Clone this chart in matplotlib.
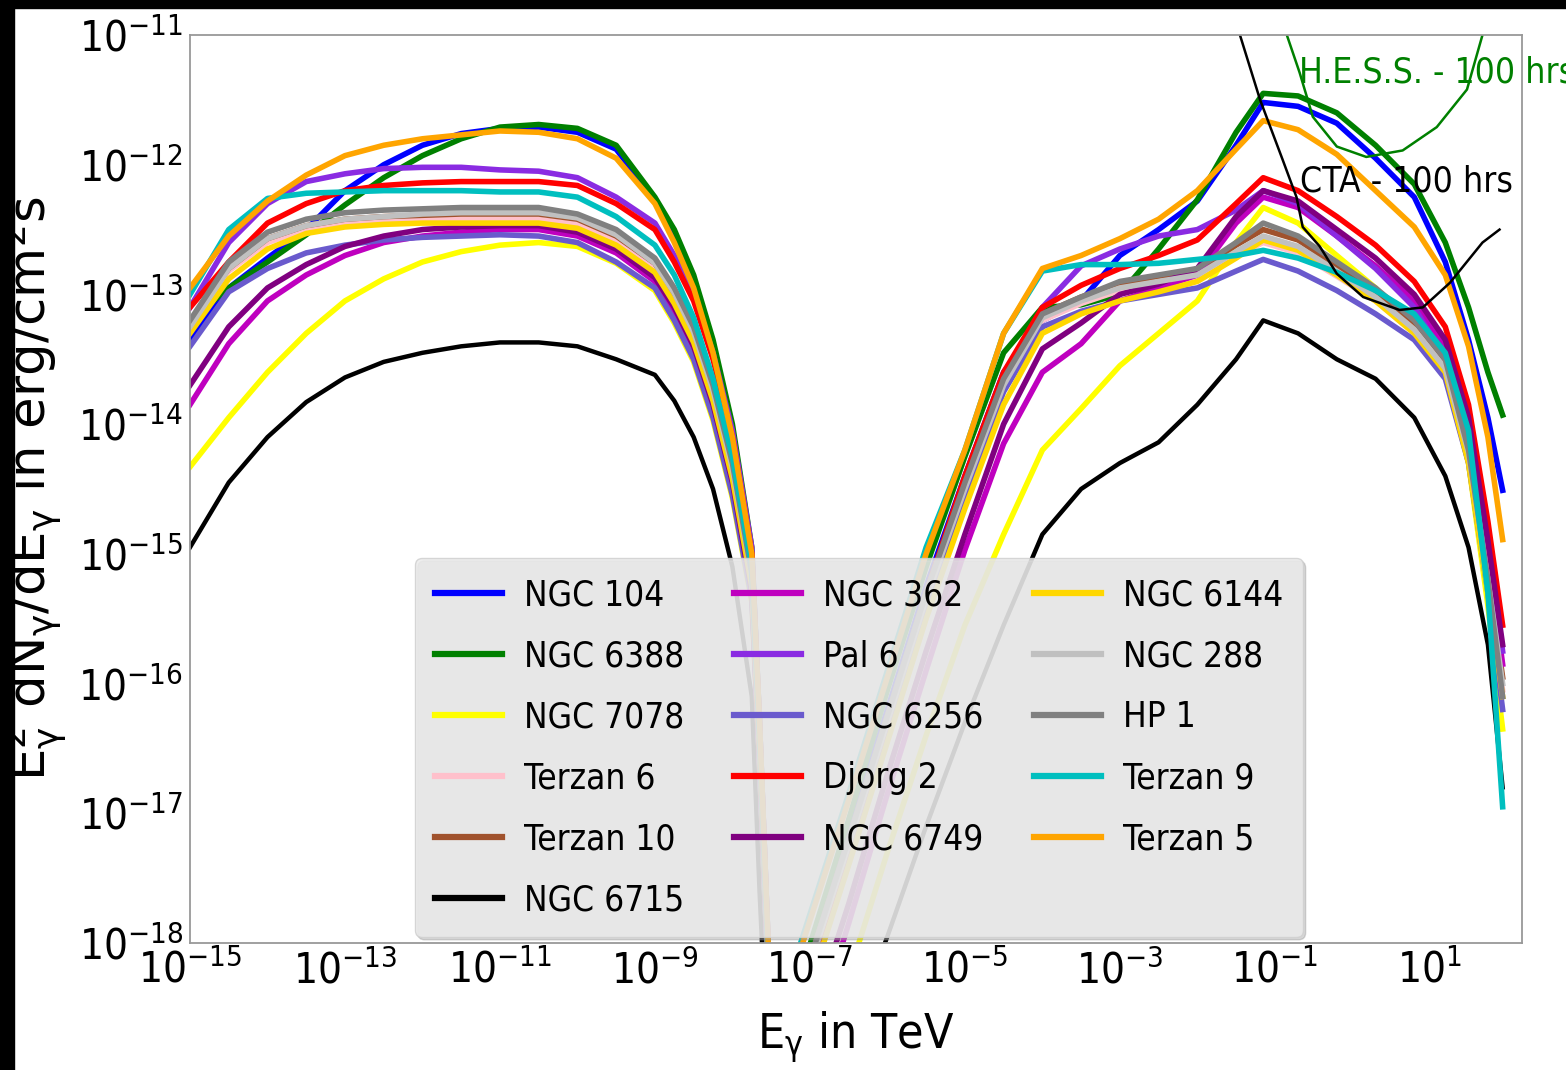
import numpy as np
import matplotlib
matplotlib.use("Agg")
import matplotlib.pyplot as plt
import matplotlib.font_manager as fm
from matplotlib.font_manager import FontProperties
from matplotlib.textpath import TextPath
from matplotlib.patches import Rectangle

# energy grid, log10(E / TeV): synchrotron hump then inverse-Compton hump
log_e_low = [-15, -14.5, -14, -13.5, -13, -12.5, -12, -11.5, -11, -10.5, -10,
             -9.5, -9, -8.75, -8.5, -8.25, -8, -7.75, -7.65, -7.5]
log_e_high = [-7.2, -6.5, -6.0, -5.5, -5.0, -4.5, -4.0, -3.5, -3.0, -2.5, -2.0,
              -1.5, -1.15, -0.7, -0.2, 0.3, 0.8, 1.2, 1.5, 1.75, 1.94]
log_e = log_e_low + log_e_high

# log10 of E^2 dN/dE in erg/cm^2/s for each cluster
ngc104 = [-13.35, -12.95, -12.72, -12.5, -12.2, -12.0, -11.85, -11.76, -11.72, -11.71, -11.75,
          -11.88, -12.27, -12.55, -12.9, -13.4, -14.05, -15.0, -16.3, -18.6,
          -18.5, -17.15, -16.2, -15.25, -14.4, -13.6, -13.2, -13.05, -12.7, -12.5, -12.28,
          -11.85, -11.52, -11.55, -11.68, -11.95, -12.25, -12.75, -13.35, -13.95, -14.51]
ngc6388 = [-13.2, -12.95, -12.75, -12.54, -12.31, -12.1, -11.93, -11.8, -11.71, -11.69, -11.72,
           -11.85, -12.25, -12.5, -12.85, -13.35, -14.0, -14.95, -16.3, -18.6,
           -18.4, -17.05, -16.05, -15.1, -14.25, -13.45, -13.1, -13.08, -13.0, -12.65, -12.27,
           -11.75, -11.45, -11.47, -11.6, -11.85, -12.15, -12.6, -13.1, -13.6, -13.93]
ngc7078 = [-14.33, -13.95, -13.6, -13.3, -13.05, -12.88, -12.75, -12.67, -12.62, -12.6, -12.63,
           -12.76, -12.97, -13.22, -13.52, -13.97, -14.57, -15.37, -16.6, -18.8,
           -19.6, -18.25, -17.3, -16.4, -15.55, -14.85, -14.2, -13.88, -13.55, -13.3, -13.05,
           -12.6, -12.33, -12.45, -12.7, -12.95, -13.25, -13.6, -14.3, -15.4, -16.35]
terzan6 = [-13.25, -12.82, -12.6, -12.5, -12.45, -12.43, -12.42, -12.42, -12.42, -12.42, -12.46,
           -12.58, -12.8, -13.03, -13.33, -13.78, -14.38, -15.2, -16.45, -18.7,
           -18.55, -17.25, -16.3, -15.35, -14.5, -13.7, -13.2, -13.07, -12.97, -12.92, -12.87,
           -12.7, -12.6, -12.68, -12.86, -13.05, -13.3, -13.6, -14.25, -15.25, -16.05]
terzan10 = [-13.22, -12.8, -12.57, -12.47, -12.42, -12.4, -12.39, -12.38, -12.38, -12.38, -12.42,
            -12.55, -12.76, -13.0, -13.3, -13.75, -14.35, -15.18, -16.42, -18.7,
            -18.5, -17.2, -16.25, -15.3, -14.45, -13.65, -13.15, -13.02, -12.92, -12.86, -12.82,
            -12.62, -12.5, -12.58, -12.78, -12.98, -13.22, -13.52, -14.18, -15.15, -15.95]
ngc6715 = [-14.95, -14.45, -14.1, -13.83, -13.64, -13.52, -13.45, -13.4, -13.37, -13.37, -13.4,
           -13.5, -13.62, -13.82, -14.1, -14.5, -15.1, -16.1, -17.6, -19.5,
           -19.9, -18.75, -17.95, -17.1, -16.3, -15.55, -14.85, -14.5, -14.3, -14.14, -13.85,
           -13.5, -13.2, -13.3, -13.5, -13.65, -13.95, -14.4, -14.95, -15.7, -16.8]
ngc362 = [-13.85, -13.38, -13.05, -12.85, -12.7, -12.6, -12.55, -12.52, -12.5, -12.5, -12.55,
          -12.68, -12.9, -13.13, -13.43, -13.88, -14.48, -15.32, -16.6, -18.8,
          -19.2, -17.85, -16.85, -15.9, -14.97, -14.15, -13.6, -13.38, -13.05, -12.95, -12.85,
          -12.45, -12.25, -12.33, -12.55, -12.78, -13.05, -13.42, -14.05, -15.0, -15.85]
pal6 = [-13.1, -12.6, -12.3, -12.13, -12.07, -12.03, -12.02, -12.02, -12.04, -12.05, -12.1,
        -12.25, -12.45, -12.7, -13.0, -13.45, -14.05, -14.95, -16.3, -18.6,
        -18.7, -17.35, -16.4, -15.4, -14.5, -13.7, -13.1, -12.78, -12.65, -12.55, -12.5,
        -12.35, -12.2, -12.3, -12.55, -12.8, -13.1, -13.5, -14.1, -14.9, -15.75]
ngc6256 = [-13.4, -12.98, -12.8, -12.68, -12.62, -12.58, -12.56, -12.55, -12.54, -12.55, -12.6,
           -12.75, -12.95, -13.2, -13.5, -13.95, -14.55, -15.35, -16.6, -18.8,
           -18.6, -17.3, -16.35, -15.4, -14.55, -13.75, -13.25, -13.13, -13.05, -13.0, -12.95,
           -12.82, -12.73, -12.82, -12.97, -13.15, -13.35, -13.65, -14.3, -15.3, -16.2]
djorg2 = [-13.1, -12.75, -12.45, -12.3, -12.2, -12.16, -12.14, -12.13, -12.13, -12.13, -12.16,
          -12.3, -12.5, -12.75, -13.05, -13.5, -14.1, -15.0, -16.3, -18.6,
          -18.6, -17.25, -16.3, -15.3, -14.4, -13.6, -13.1, -12.93, -12.8, -12.7, -12.58,
          -12.3, -12.1, -12.2, -12.4, -12.62, -12.9, -13.25, -13.85, -14.75, -15.55]
ngc6749 = [-13.7, -13.25, -12.95, -12.77, -12.63, -12.55, -12.5, -12.48, -12.47, -12.47, -12.52,
           -12.65, -12.87, -13.1, -13.4, -13.85, -14.45, -15.3, -16.6, -18.8,
           -19.0, -17.7, -16.7, -15.75, -14.85, -14.0, -13.42, -13.22, -13.0, -12.92, -12.8,
           -12.4, -12.2, -12.28, -12.5, -12.72, -13.0, -13.35, -13.95, -14.9, -15.7]
ngc6144 = [-13.3, -12.88, -12.65, -12.53, -12.48, -12.46, -12.45, -12.45, -12.45, -12.45, -12.49,
           -12.62, -12.83, -13.07, -13.37, -13.82, -14.42, -15.25, -16.5, -18.7,
           -18.7, -17.4, -16.45, -15.5, -14.65, -13.85, -13.3, -13.15, -13.05, -12.98, -12.9,
           -12.72, -12.58, -12.66, -12.85, -13.05, -13.3, -13.6, -14.3, -15.3, -16.1]
ngc288 = [-13.25, -12.8, -12.57, -12.47, -12.42, -12.4, -12.38, -12.37, -12.37, -12.37, -12.41,
          -12.54, -12.76, -12.99, -13.29, -13.74, -14.34, -15.17, -16.42, -18.7,
          -18.55, -17.25, -16.3, -15.35, -14.5, -13.7, -13.18, -13.05, -12.95, -12.9, -12.85,
          -12.67, -12.55, -12.63, -12.82, -13.02, -13.27, -13.57, -14.22, -15.2, -16.0]
hp1 = [-13.2, -12.75, -12.52, -12.42, -12.37, -12.35, -12.34, -12.33, -12.33, -12.33, -12.38,
       -12.5, -12.72, -12.95, -13.25, -13.7, -14.3, -15.15, -16.4, -18.7,
       -18.5, -17.2, -16.25, -15.3, -14.45, -13.65, -13.15, -13.02, -12.9, -12.85, -12.8,
       -12.6, -12.45, -12.55, -12.75, -12.95, -13.2, -13.5, -14.2, -15.2, -16.1]
terzan9 = [-13.0, -12.5, -12.26, -12.22, -12.21, -12.2, -12.2, -12.2, -12.21, -12.21, -12.25,
           -12.4, -12.62, -12.85, -13.18, -13.65, -14.25, -15.1, -16.4, -18.7,
           -18.15, -16.85, -15.9, -14.95, -14.2, -13.3, -12.82, -12.77, -12.77, -12.76, -12.73,
           -12.7, -12.66, -12.72, -12.83, -12.97, -13.15, -13.45, -14.05, -15.3, -16.95]
terzan5 = [-12.95, -12.55, -12.28, -12.08, -11.93, -11.85, -11.8, -11.77, -11.74, -11.75, -11.8,
           -11.95, -12.3, -12.6, -12.95, -13.45, -14.1, -15.0, -16.3, -18.6,
           -18.2, -16.9, -15.95, -15.0, -14.2, -13.3, -12.8, -12.7, -12.57, -12.42, -12.2,
           -11.88, -11.66, -11.73, -11.92, -12.2, -12.48, -12.85, -13.4, -14.1, -14.89]

names = ['NGC 104', 'NGC 6388', 'NGC 7078', 'Terzan 6', 'Terzan 10', 'NGC 6715',
         'NGC 362', 'Pal 6', 'NGC 6256', 'Djorg 2', 'NGC 6749',
         'NGC 6144', 'NGC 288', 'HP 1', 'Terzan 9', 'Terzan 5']
spectra = [ngc104, ngc6388, ngc7078, terzan6, terzan10, ngc6715,
           ngc362, pal6, ngc6256, djorg2, ngc6749,
           ngc6144, ngc288, hp1, terzan9, terzan5]
colors = ['blue', 'green', 'yellow', 'pink', 'sienna', 'black',
          'm', 'blueviolet', 'slateblue', 'red', 'purple',
          'gold', 'silver', 'grey', 'c', 'orange']

# instrument sensitivities for 100 hrs
cta_log_e = [-1.5, -1.45, -1.19, -0.9, -0.72, -0.64, -0.42, -0.2, 0.14, 0.61, 0.91, 1.26, 1.68, 1.9]
cta_log_f = [-10.85, -11.0, -11.5, -11.96, -12.25, -12.48, -12.63, -12.84, -13.02, -13.12,
             -13.1, -12.91, -12.6, -12.5]
hess_log_e = [-0.9, -0.845, -0.68, -0.51, -0.2, 0.18, 0.65, 1.09, 1.48, 1.68, 1.75]
hess_log_f = [-10.8, -11.0, -11.29, -11.63, -11.86, -11.94, -11.89, -11.71, -11.42, -11.0, -10.8]

# pick a narrow sans-serif face if one is installed
preferred = ['Liberation Sans Narrow', 'DejaVu Sans', 'Roboto Condensed', 'Noto Sans',
             'Open Sans', 'Roboto', 'Liberation Sans', 'Lato', 'Inter']
narrow = [f for f in fm.fontManager.ttflist
          if f.style == 'normal' and f.weight in (400, 'normal', 'regular', 'book')
          and ('condensed' in str(f.stretch) or 'Narrow' in f.name or 'Condensed' in f.name)
          and 'expanded' not in str(f.stretch)]
narrow.sort(key=lambda f: preferred.index(f.name) if f.name in preferred else len(preferred))
if narrow:
    plt.rcParams['font.family'] = [narrow[0].name, 'DejaVu Sans']
    plt.rcParams['font.stretch'] = narrow[0].stretch
else:
    plt.rcParams['font.family'] = ['DejaVu Sans']
plt.rcParams['mathtext.default'] = 'regular'
text_prop = FontProperties(family=plt.rcParams['font.family'],
                           stretch=plt.rcParams['font.stretch'])


def fit_size(s, width_px):
    # font size in points that makes string s about width_px wide at 100 dpi
    w = TextPath((0, 0), s, size=100, prop=text_prop).get_extents().width
    return width_px * 72.0 / w


legend_pt = fit_size('NGC 6388', 155)
tick_pt = fit_size(r'$\mathdefault{10^{-13}}$', 98)
xlabel_pt = fit_size(r'E$_\gamma$ in TeV', 191)
note_pt = fit_size('CTA - 100 hrs', 210)

fig = plt.figure(figsize=(15.66, 10.70), dpi=100)
ax = fig.add_axes([190 / 1566, 1 - 943 / 1070, 1332 / 1566, 908 / 1070])

energy = 10.0 ** np.array(log_e)
for name, spec, col in zip(names, spectra, colors):
    lw = 3.2 if col == 'black' else 4.0
    ax.plot(energy, 10.0 ** np.array(spec), color=col, lw=lw, label=name)

ax.plot(10.0 ** np.array(hess_log_e), 10.0 ** np.array(hess_log_f), color='green', lw=1.8)
ax.plot(10.0 ** np.array(cta_log_e), 10.0 ** np.array(cta_log_f), color='black', lw=1.8)

ax.text(10 ** -0.69, 10 ** -11.29, 'H.E.S.S. - 100 hrs', color='green', fontsize=note_pt,
        va='center', ha='left', clip_on=False)
ax.text(10 ** -0.67, 10 ** -12.13, 'CTA - 100 hrs', color='black', fontsize=note_pt,
        va='center', ha='left')

ax.set_xscale('log')
ax.set_yscale('log')
ax.set_xlim(1e-15, 10 ** 2.19)
ax.set_ylim(1e-18, 1e-11)
ax.set_xticks([10.0 ** k for k in range(-15, 2, 2)])
ax.set_yticks([10.0 ** k for k in range(-18, -10)])
ax.minorticks_off()
ax.tick_params(length=0, pad=5, labelsize=tick_pt)

for sp in ax.spines.values():
    sp.set_color('#999999')
    sp.set_linewidth(1.3)

ax.set_xlabel(r'E$_\gamma$ in TeV', fontsize=xlabel_pt, labelpad=12)
ax.set_ylabel(r'E$_\gamma^2$ dN$_\gamma$/dE$_\gamma$ in erg/cm$^2$s',
              fontproperties=FontProperties(family='DejaVu Sans', stretch='normal', size=37))
ax.yaxis.set_label_coords(-0.0905, 0.5)

s_px = legend_pt * 100 / 72
leg = ax.legend(ncol=3, loc='lower left', bbox_to_anchor=(0.1689, 0.0066), borderaxespad=0,
                fontsize=legend_pt, frameon=True, facecolor='#ebebeb', edgecolor='#d0d0d0',
                framealpha=0.85, handlelength=67 / s_px, handletextpad=22 / s_px,
                columnspacing=50 / s_px, labelspacing=(62 - s_px) / s_px,
                borderpad=20 / s_px,
                shadow={'ox': 2, 'oy': -2, 'color': '0.6', 'alpha': 0.4})
for line in leg.get_lines():
    line.set_linewidth(4.5)

# dark border along the top and left edges of the image
fig.add_artist(Rectangle((0, 1 - 8 / 1070), 1, 8 / 1070, transform=fig.transFigure,
                         color='black', zorder=10))
fig.add_artist(Rectangle((0, 0), 14 / 1566, 1, transform=fig.transFigure,
                         color='black', zorder=10))

fig.savefig('out.png', dpi=100)
